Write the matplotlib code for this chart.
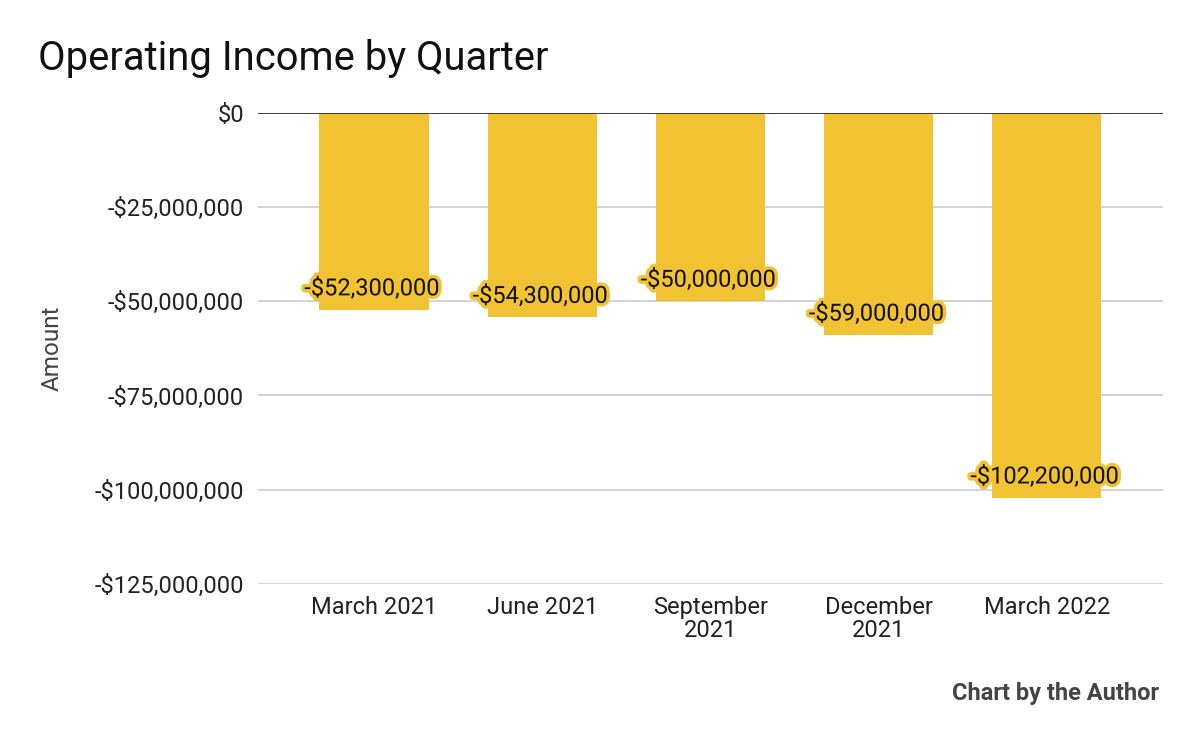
import matplotlib
matplotlib.use("Agg")
import matplotlib.pyplot as plt
import matplotlib.patheffects as pe
from matplotlib.ticker import FuncFormatter

quarters = ["March 2021", "June 2021", "September\n2021", "December\n2021", "March 2022"]
income = [-52300000, -54300000, -50000000, -59000000, -102200000]
yticks = [0, -25000000, -50000000, -75000000, -100000000, -125000000]

bar_color = "#F1C232"
plt.rcParams["font.family"] = ["Roboto", "DejaVu Sans"]


def money(v, pos=None):
    if v < 0:
        return "-${:,.0f}".format(-v)
    return "${:,.0f}".format(v)


fig = plt.figure(figsize=(12, 7.42), dpi=100)
ax = fig.add_axes([0.215, 0.213, 0.754, 0.635])

x = range(len(quarters))
ax.bar(x, income, width=0.65, color=bar_color, zorder=2)

for i, v in zip(x, income):
    ax.text(i - 0.01, v + 5600000, money(v), ha="center", va="center", fontsize=17,
            color="#111111", zorder=4,
            path_effects=[pe.withStroke(linewidth=5, foreground=bar_color)])

ax.set_ylim(-125000000, 0)
ax.set_xlim(-0.69, len(quarters) - 1 + 0.69)
ax.set_yticks(yticks)
ax.yaxis.set_major_formatter(FuncFormatter(money))
ax.set_xticks(list(x))
ax.set_xticklabels(quarters, linespacing=1.0)
ax.tick_params(axis="both", length=0, labelsize=17, colors="#222222")
ax.tick_params(axis="y", pad=10)
ax.tick_params(axis="x", pad=9)
ax.grid(axis="y", color="#cccccc", linewidth=1.2, zorder=0)
ax.axhline(0, color="#222222", linewidth=1.2, zorder=3)
for s in ax.spines.values():
    s.set_visible(False)

ax.set_ylabel("Amount", fontsize=17.5, color="#444444", labelpad=22)

fig.text(0.032, 0.906, "Operating Income by Quarter", fontsize=28.8, color="#111111",
         ha="left", va="baseline")
fig.text(0.966, 0.057, "Chart by the Author", fontsize=17, fontweight="bold",
         color="#444444", ha="right", va="baseline")

fig.savefig("out.png", dpi=100)
